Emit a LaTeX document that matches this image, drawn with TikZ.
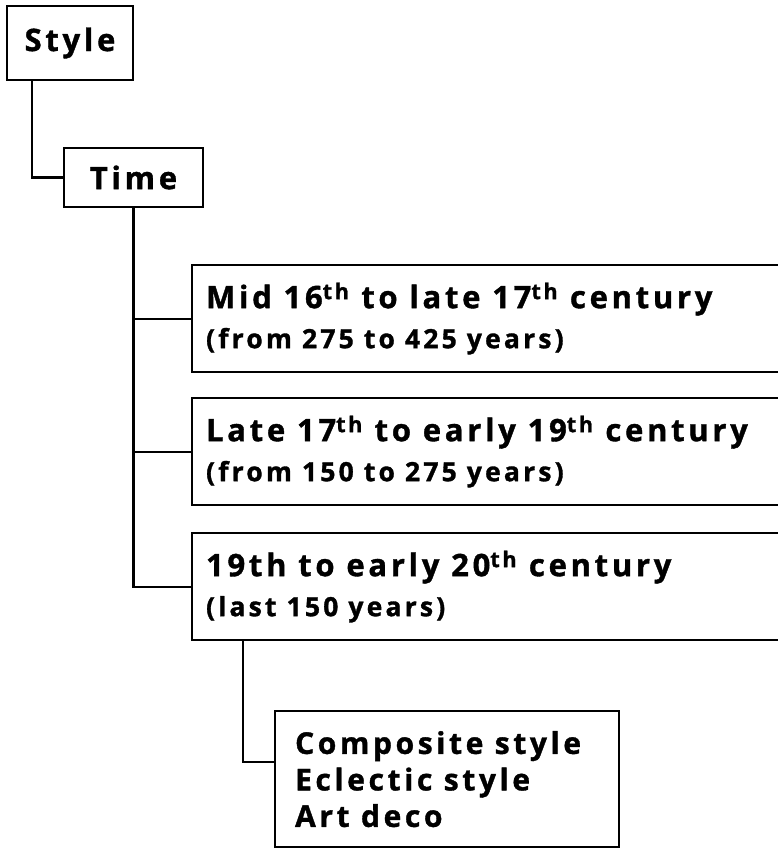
\documentclass[tikz,border=0pt]{standalone}
\usepackage{fontspec}
\setsansfont{Open Sans}[LetterSpace=12,FakeBold=1.2]
\usepackage{tikz}

\begin{document}
\begin{tikzpicture}[x=1pt,y=-1pt,line width=2.2pt,font=\sffamily\bfseries,
  box/.style={rectangle,draw=black,inner sep=0pt,align=center},
  period/.style={rectangle,draw=black,anchor=north west,minimum width=620pt,minimum height=107pt,inner xsep=14pt,inner ysep=0pt,text width=592pt,align=flush left,font=\sffamily\bfseries\fontsize{26.5}{40}\selectfont},
  kinds/.style={rectangle,draw=black,anchor=north west,inner xsep=20pt,inner ysep=20pt,text width=304pt,align=flush left,font=\sffamily\bfseries\fontsize{30}{36.5}\selectfont}]
\useasboundingbox (0,0) rectangle (778,848);
\clip (0,0) rectangle (778,848);
\node[box,minimum width=126pt,minimum height=74pt,font=\sffamily\bfseries\fontsize{31}{36}\selectfont] (style) at (70,43) {Style};
\node[box,minimum width=139pt,minimum height=59pt,font=\sffamily\bfseries\fontsize{31}{36}\selectfont] (time) at (133.5,177.5) {Time};
\node[period] (mid) at (191,264) {{\fontsize{31}{40}\selectfont Mid 16\textsuperscript{th} to late 17\textsuperscript{th} century}\\(from 275 to 425 years)};
\node[period] (late) at (191,397) {{\fontsize{31}{40}\selectfont Late 17\textsuperscript{th} to early 19\textsuperscript{th} century}\\(from 150 to 275 years)};
\node[period] (modern) at (191,532) {{\fontsize{31}{40}\selectfont 19th to early 20\textsuperscript{th} century}\\(last 150 years)};
\node[kinds] (kinds) at (274,710) {Composite style\\Eclectic style\\Art deco};
\draw ([xshift=26pt]style.south west) |- (time.west);
\draw (time.south) |- (mid.west);
\draw (time.south) |- (late.west);
\draw (time.south) |- (modern.west);
\draw ([xshift=52pt]modern.south west) |- ([yshift=-52pt]kinds.north west);
\end{tikzpicture}
\end{document}
